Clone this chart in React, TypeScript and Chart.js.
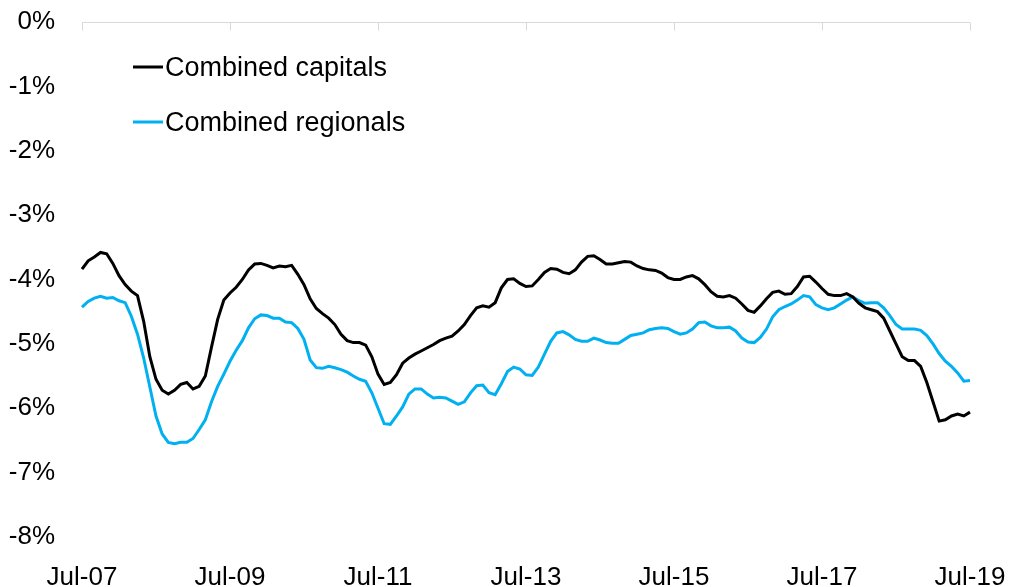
import React, { useEffect, useRef } from "react";
import { Chart, registerables } from "chart.js";

Chart.register(...registerables);

const MONTHS = ["Jan", "Feb", "Mar", "Apr", "May", "Jun", "Jul", "Aug", "Sep", "Oct", "Nov", "Dec"];

// Monthly categories from Jul-07 to Jul-19
const categories: string[] = [];
for (let i = 0; i < 145; i++) {
  const m = (6 + i) % 12;
  const yr = 7 + Math.floor((6 + i) / 12);
  categories.push(`${MONTHS[m]}-${String(yr).padStart(2, "0")}`);
}

const tickLabels = ["Jul-07", "Jul-09", "Jul-11", "Jul-13", "Jul-15", "Jul-17", "Jul-19"];

const combinedCapitals = [
  -3.84, -3.71, -3.65, -3.58, -3.60, -3.75, -3.94, -4.08, -4.18, -4.25, -4.65, -5.20,
  -5.55, -5.72, -5.78, -5.72, -5.63, -5.60, -5.70, -5.66, -5.50, -5.05, -4.62, -4.32,
  -4.21, -4.12, -4.00, -3.85, -3.76, -3.75, -3.78, -3.82, -3.79, -3.80, -3.78, -3.92,
  -4.08, -4.30, -4.45, -4.53, -4.60, -4.70, -4.85, -4.95, -4.98, -4.98, -5.02, -5.20,
  -5.47, -5.63, -5.60, -5.48, -5.30, -5.22, -5.16, -5.11, -5.06, -5.01, -4.95, -4.91,
  -4.88, -4.80, -4.70, -4.56, -4.44, -4.41, -4.43, -4.36, -4.13, -4.00, -3.99, -4.06,
  -4.11, -4.10, -4.00, -3.89, -3.83, -3.84, -3.89, -3.91, -3.85, -3.73, -3.64, -3.63,
  -3.69, -3.76, -3.76, -3.74, -3.72, -3.73, -3.79, -3.83, -3.85, -3.86, -3.90, -3.97,
  -4.00, -4.00, -3.96, -3.94, -3.99, -4.08, -4.19, -4.26, -4.27, -4.25, -4.29, -4.38,
  -4.48, -4.51, -4.41, -4.30, -4.20, -4.18, -4.23, -4.22, -4.11, -3.96, -3.95, -4.04,
  -4.14, -4.23, -4.25, -4.25, -4.22, -4.27, -4.37, -4.44, -4.47, -4.50, -4.60, -4.80,
  -5.00, -5.20, -5.26, -5.26, -5.35, -5.60, -5.90, -6.20, -6.18, -6.12, -6.09, -6.12,
  -6.06,
];

const combinedRegionals = [
  -4.43, -4.34, -4.29, -4.26, -4.29, -4.28, -4.33, -4.36, -4.57, -4.85, -5.22, -5.67,
  -6.12, -6.40, -6.53, -6.55, -6.53, -6.53, -6.47, -6.33, -6.18, -5.90, -5.66, -5.47,
  -5.27, -5.10, -4.95, -4.75, -4.61, -4.55, -4.56, -4.60, -4.60, -4.66, -4.67, -4.76,
  -4.93, -5.25, -5.37, -5.38, -5.35, -5.37, -5.40, -5.44, -5.50, -5.55, -5.58, -5.76,
  -6.00, -6.24, -6.25, -6.12, -5.98, -5.78, -5.70, -5.70, -5.78, -5.84, -5.83, -5.84,
  -5.89, -5.94, -5.90, -5.76, -5.65, -5.64, -5.76, -5.79, -5.62, -5.43, -5.36, -5.39,
  -5.48, -5.49, -5.36, -5.16, -4.96, -4.83, -4.81, -4.86, -4.93, -4.96, -4.96, -4.91,
  -4.94, -4.98, -4.99, -4.99, -4.93, -4.87, -4.85, -4.83, -4.78, -4.76, -4.75, -4.76,
  -4.81, -4.85, -4.83, -4.77, -4.67, -4.66, -4.72, -4.75, -4.75, -4.74, -4.80, -4.91,
  -4.97, -4.98, -4.90, -4.77, -4.58, -4.47, -4.42, -4.38, -4.32, -4.25, -4.27, -4.39,
  -4.44, -4.47, -4.44, -4.38, -4.32, -4.27, -4.33, -4.37, -4.36, -4.36, -4.44, -4.56,
  -4.70, -4.77, -4.77, -4.77, -4.79, -4.87, -5.00, -5.15, -5.27, -5.35, -5.45, -5.58,
  -5.57,
];

const seriesNames = ["Combined capitals", "Combined regionals"];
const seriesColors = ["#000000", "#00B0F0"];

const FONT = '"Liberation Sans", Arial, sans-serif';

const decorPlugin = {
  id: "decor",
  beforeDatasetsDraw(chart: any) {
    const { ctx, chartArea, scales } = chart;
    const xs = scales.x;
    const ys = scales.y;
    const y0 = Math.round(ys.getPixelForValue(0)) + 0.5;
    ctx.save();
    ctx.strokeStyle = "#d9d9d9";
    ctx.lineWidth = 1;
    ctx.beginPath();
    ctx.moveTo(chartArea.left, y0);
    ctx.lineTo(chartArea.right, y0);
    categories.forEach((c, i) => {
      if (tickLabels.includes(c)) {
        const px = Math.round(xs.getPixelForValue(i)) + 0.5;
        ctx.moveTo(px, y0);
        ctx.lineTo(px, y0 + 8);
      }
    });
    ctx.stroke();
    ctx.restore();
  },
  afterDraw(chart: any) {
    const { ctx, chartArea } = chart;
    ctx.save();
    ctx.font = `27px ${FONT}`;
    ctx.textBaseline = "alphabetic";
    ctx.textAlign = "left";
    seriesNames.forEach((name, i) => {
      const yLine = 67 + i * 55;
      const xStart = chartArea.left + 51;
      ctx.strokeStyle = seriesColors[i];
      ctx.lineWidth = 3;
      ctx.beginPath();
      ctx.moveTo(xStart, yLine);
      ctx.lineTo(xStart + 30, yLine);
      ctx.stroke();
      ctx.fillStyle = "#000000";
      ctx.fillText(name, xStart + 32, yLine + 9);
    });
    ctx.restore();
  },
};

function clearPadding(scale: any) {
  scale.paddingTop = 0;
  scale.paddingBottom = 0;
  scale.paddingLeft = 0;
  scale.paddingRight = 0;
}

export default function App() {
  const ref = useRef<HTMLCanvasElement | null>(null);
  useEffect(() => {
    if (!ref.current) return;
    const chart = new Chart(ref.current, {
      type: "line",
      data: {
        labels: categories,
        datasets: [
          {
            label: seriesNames[0],
            data: combinedCapitals,
            borderColor: seriesColors[0],
            backgroundColor: seriesColors[0],
            borderWidth: 3,
            pointRadius: 0,
            tension: 0,
          },
          {
            label: seriesNames[1],
            data: combinedRegionals,
            borderColor: seriesColors[1],
            backgroundColor: seriesColors[1],
            borderWidth: 3,
            pointRadius: 0,
            tension: 0,
          },
        ],
      },
      options: {
        animation: false,
        responsive: false,
        maintainAspectRatio: false,
        layout: { padding: { top: 22, right: 39, left: 0, bottom: 0 } },
        plugins: {
          legend: { display: false },
          tooltip: { enabled: false },
        },
        scales: {
          x: {
            type: "category",
            grid: { display: false },
            border: { display: false },
            afterFit(scale: any) {
              scale.height = 50;
              clearPadding(scale);
            },
            ticks: {
              autoSkip: false,
              maxRotation: 0,
              minRotation: 0,
              padding: 20,
              color: "#000000",
              font: { family: FONT, size: 26, lineHeight: 1 },
              callback(_v: any, i: number) {
                const c = categories[i];
                return tickLabels.includes(c) ? c : "";
              },
            },
          },
          y: {
            min: -8,
            max: 0,
            grid: { display: false },
            border: { display: false },
            afterFit(scale: any) {
              scale.width = 82;
              clearPadding(scale);
            },
            ticks: {
              stepSize: 1,
              padding: 19,
              color: "#000000",
              font: { family: FONT, size: 26 },
              callback(v: any) {
                return `${Math.round(Number(v))}%`;
              },
            },
          },
        },
      },
      plugins: [decorPlugin],
    });
    return () => chart.destroy();
  }, []);
  return (
    <div style={{ position: "absolute", left: 0, top: 0, width: 1009, height: 587, background: "#fff" }}>
      <canvas ref={ref} width={1009} height={587} style={{ display: "block" }} />
    </div>
  );
}
